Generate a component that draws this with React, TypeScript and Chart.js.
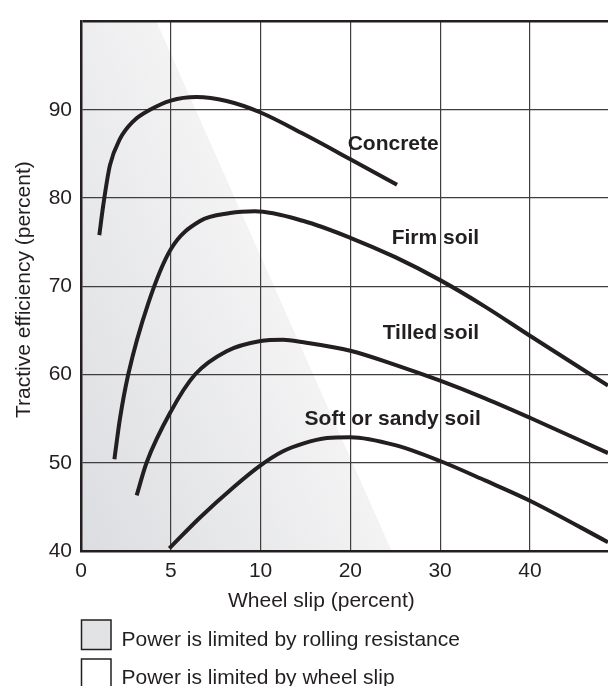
import React, { useEffect, useRef } from 'react';
import { Chart, registerables } from 'chart.js';

Chart.register(...registerables);

// ---- data ----
const X_TICK_SLIPS = [0, 5, 10, 20, 30, 40];
const X_TICK_LABELS = ['0', '5', '10', '20', '30', '40'];
const Y_TICK_VALUES = [40, 50, 60, 70, 80, 90, 100];
const X_MAX_SLIP = 48.7;
const Y_MIN = 40;
const Y_MAX = 100;

const CONCRETE_SLIP = [1.02, 1.24, 1.61, 2.17, 2.91, 3.84, 5.0, 6.44, 8.11, 10, 14.8, 20, 25.2];
const CONCRETE_EFF = [75.8, 79.2, 83.7, 86.7, 88.7, 90.0, 91.05, 91.45, 91.0, 89.7, 87.25, 84.4, 81.5];

const FIRM_SLIP = [1.86, 2.17, 2.63, 3.75, 5.0, 6.63, 8.3, 9.69, 14.8, 20, 25, 30, 35, 40, 48.7];
const FIRM_EFF = [50.4, 55.0, 60.0, 68.1, 74.2, 77.4, 78.3, 78.5, 77.4, 75.5, 73.3, 70.7, 67.7, 64.4, 58.75];

const TILLED_SLIP = [3.1, 3.65, 5.0, 6.35, 8.11, 10, 12.5, 14.8, 20, 25, 30, 35, 40, 48.7];
const TILLED_EFF = [46.3, 50.0, 55.8, 60.0, 62.65, 63.8, 63.95, 63.65, 62.7, 61.1, 59.3, 57.3, 55.1, 51.1];

const SOFT_SLIP = [4.92, 6.63, 8.48, 10, 12.5, 14.8, 17.4, 20, 25, 30, 35, 40, 48.7];
const SOFT_EFF = [40.3, 43.8, 47.2, 49.7, 51.3, 52.2, 52.8, 52.9, 52.0, 50.2, 48.0, 45.7, 41.0];

// rolling-resistance limited region boundary
const REGION_SLIP = [0, 4.2, 24.6];
const REGION_EFF = [100, 100, 40];

const CURVE_LABELS = ['Concrete', 'Firm soil', 'Tilled soil', 'Soft or sandy soil'];
const CURVE_LABEL_SLIP = [19.7, 24.6, 23.6, 14.9];
const CURVE_LABEL_EFF = [85.4, 74.8, 64.0, 54.3];

const LEGEND_LABELS = ['Power is limited by rolling resistance', 'Power is limited by wheel slip'];
const X_TITLE = 'Wheel slip (percent)';
const Y_TITLE = 'Tractive efficiency (percent)';

// ---- styles ----
const INK = '#231f20';
const GRID = '#3e3e3e';
const FONT = '"Liberation Sans", Arial, Helvetica, sans-serif';

// piecewise slip axis: 0-10 in steps of 5, then steps of 10, equal spacing
function slipToPos(s: number): number {
  return s <= 10 ? s / 5 : 2 + (s - 10) / 10;
}

function toPoints(xs: number[], ys: number[]) {
  return xs.map((x, i) => ({ x: slipToPos(x), y: ys[i] }));
}

const decorPlugin = {
  id: 'decor',
  afterDatasetsDraw(chart: any) {
    const ctx = chart.ctx;
    const xs = chart.scales.x;
    const ys = chart.scales.y;
    ctx.save();
    ctx.fillStyle = INK;
    ctx.font = `bold 21px ${FONT}`;
    ctx.textAlign = 'left';
    ctx.textBaseline = 'alphabetic';
    CURVE_LABELS.forEach((t, i) => {
      ctx.fillText(
        t,
        xs.getPixelForValue(slipToPos(CURVE_LABEL_SLIP[i])),
        ys.getPixelForValue(CURVE_LABEL_EFF[i])
      );
    });
    ctx.restore();
  },
  afterDraw(chart: any) {
    const ctx = chart.ctx;
    ctx.save();
    ctx.fillStyle = INK;
    ctx.font = `21px ${FONT}`;
    ctx.textBaseline = 'alphabetic';
    ctx.textAlign = 'left';
    // x title
    ctx.fillText(X_TITLE, 228, 607);
    // y title
    ctx.save();
    ctx.translate(29.5, 418);
    ctx.rotate(-Math.PI / 2);
    ctx.fillText(Y_TITLE, 0, 0);
    ctx.restore();
    // legend
    const boxX = 81.5;
    const boxTops = [620, 659];
    const baselines = [646, 684];
    LEGEND_LABELS.forEach((t, i) => {
      ctx.fillStyle = i === 0 ? '#e2e3e5' : '#ffffff';
      ctx.fillRect(boxX, boxTops[i], 29.5, 29.5);
      ctx.strokeStyle = INK;
      ctx.lineWidth = 1.5;
      ctx.strokeRect(boxX, boxTops[i], 29.5, 29.5);
      ctx.fillStyle = INK;
      ctx.fillText(t, 121.5, baselines[i]);
    });
    ctx.restore();
  },
};

export default function App() {
  const canvasRef = useRef<HTMLCanvasElement | null>(null);

  useEffect(() => {
    document.body.style.margin = '0';
    const canvas = canvasRef.current;
    if (!canvas) return;

    const curve = (label: string, xs: number[], ys: number[]) => ({
      label,
      data: toPoints(xs, ys),
      borderColor: INK,
      borderWidth: 4,
      pointRadius: 0,
      fill: false,
      cubicInterpolationMode: 'monotone' as const,
    });

    const regionBg = (c: any) => {
      const chart = c.chart;
      const xs = chart.scales?.x;
      const ys = chart.scales?.y;
      if (!chart.chartArea || !xs || !ys) return '#e6e7e9';
      const x0 = xs.getPixelForValue(slipToPos(REGION_SLIP[0]));
      const y0 = ys.getPixelForValue(Y_MIN);
      const xt = xs.getPixelForValue(slipToPos(REGION_SLIP[1]));
      const yt = ys.getPixelForValue(REGION_EFF[1]);
      const xb = xs.getPixelForValue(slipToPos(REGION_SLIP[2]));
      const dx = xt - xb;
      const dy = yt - y0;
      const len = Math.hypot(dx, dy) || 1;
      const nx = -dy / len;
      const ny = dx / len;
      const dist = (xb - x0) * nx;
      const g = chart.ctx.createLinearGradient(x0, y0, x0 + nx * dist, y0 + ny * dist);
      g.addColorStop(0, '#dcdde0');
      g.addColorStop(1, '#f3f3f4');
      return g;
    };

    const chart = new Chart(canvas, {
      type: 'line',
      data: {
        datasets: [
          {
            label: 'Rolling resistance region',
            data: toPoints(REGION_SLIP, REGION_EFF),
            borderWidth: 0,
            borderColor: 'rgba(0,0,0,0)',
            backgroundColor: regionBg,
            pointRadius: 0,
            fill: 'start',
            tension: 0,
          } as any,
          curve('Concrete', CONCRETE_SLIP, CONCRETE_EFF),
          curve('Firm soil', FIRM_SLIP, FIRM_EFF),
          curve('Tilled soil', TILLED_SLIP, TILLED_EFF),
          curve('Soft or sandy soil', SOFT_SLIP, SOFT_EFF),
        ],
      },
      options: {
        animation: false,
        responsive: true,
        maintainAspectRatio: false,
        devicePixelRatio: 1,
        layout: { padding: { top: 14, right: 0, bottom: 0, left: 0 } },
        plugins: {
          legend: { display: false },
          tooltip: { enabled: false },
          filler: { drawTime: 'beforeDraw' },
        } as any,
        scales: {
          x: {
            type: 'linear',
            min: 0,
            max: slipToPos(X_MAX_SLIP),
            afterBuildTicks: (scale: any) => {
              scale.ticks = X_TICK_SLIPS.map((s) => ({ value: slipToPos(s) }));
            },
            afterFit: (scale: any) => {
              scale.height = 135;
            },
            ticks: {
              callback: (_v: any, i: number) => X_TICK_LABELS[i],
              color: INK,
              font: { family: FONT, size: 21 },
              padding: 8,
              maxRotation: 0,
              autoSkip: false,
            },
            grid: {
              color: GRID,
              lineWidth: 1.2,
              drawTicks: false,
            },
            border: { display: true, color: INK, width: 2.5 },
          },
          y: {
            type: 'linear',
            min: Y_MIN,
            max: Y_MAX,
            afterBuildTicks: (scale: any) => {
              scale.ticks = Y_TICK_VALUES.map((v) => ({ value: v }));
            },
            afterFit: (scale: any) => {
              scale.width = 81;
            },
            ticks: {
              callback: (v: any) => (v === Y_MAX ? '' : String(v)),
              color: INK,
              font: { family: FONT, size: 21 },
              padding: 9,
              autoSkip: false,
            },
            grid: {
              color: (c: any) => (c.tick && c.tick.value === Y_MAX ? INK : GRID),
              lineWidth: (c: any) => (c.tick && c.tick.value === Y_MAX ? 2.5 : 1.2),
              drawTicks: false,
            },
            border: { display: true, color: INK, width: 2.5 },
          },
        },
      },
      plugins: [decorPlugin],
    });

    return () => chart.destroy();
  }, []);

  return (
    <div style={{ position: 'relative', width: 608, height: 686 }}>
      <canvas ref={canvasRef} />
    </div>
  );
}
